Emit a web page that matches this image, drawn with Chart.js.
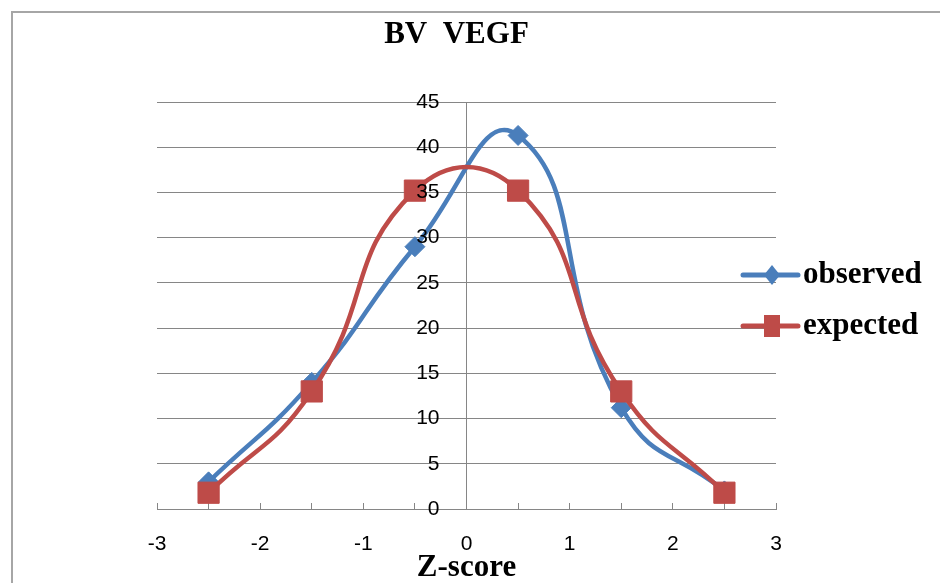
<!DOCTYPE html>
<html>
<head>
<meta charset="utf-8">
<script src="https://cdn.jsdelivr.net/npm/chart.js@4/dist/chart.umd.min.js"></script>
<style>
  html, body { margin: 0; padding: 0; background: #fff; }
  #wrap { position: relative; width: 940px; height: 583px; }
</style>
</head>
<body>
<div id="wrap"><canvas id="chart"></canvas></div>
<script>
// z-score bins and counts
const zScores = [-2.5, -1.5, -0.5, 0.5, 1.5, 2.5];
const observed = [3, 14, 29, 41.3, 11.2, 2];
const expected = [1.8, 13, 35.2, 35.2, 13, 1.8];
const seriesNames = ['observed', 'expected'];
const chartTitle = 'BV  VEGF';
const xTitle = 'Z-score';

const blue = '#4a7ebb';
const red = '#be4b48';
const grey = '#868686';

const toPoints = ys => zScores.map((x, i) => ({ x: x, y: ys[i] }));

// border, title and legend drawn by hand, Excel-style
const decor = {
    id: 'decor',
    beforeDraw(chart) {
        const ctx = chart.ctx;
        ctx.save();
        ctx.strokeStyle = '#a6a6a6';
        ctx.lineWidth = 2;
        ctx.beginPath();
        ctx.moveTo(12, chart.height);
        ctx.lineTo(12, 12);
        ctx.lineTo(chart.width, 12);
        ctx.stroke();
        ctx.restore();

        // y labels sit left of the centre axis, with a gap
        const items = chart.scales.y.getLabelItems(chart.chartArea);
        if (!items._shifted) {
            items.forEach(it => { it.options.translation[0] -= 27; });
            items._shifted = true;
        }
    },
    afterDraw(chart) {
        const ctx = chart.ctx, a = chart.chartArea;
        ctx.save();
        ctx.fillStyle = '#000';
        ctx.textBaseline = 'middle';
        ctx.textAlign = 'center';
        ctx.font = 'bold 31px "Liberation Serif"';
        ctx.fillText(chartTitle, (a.left + a.right) / 2 - 10, 35);

        ctx.textAlign = 'left';
        chart.data.datasets.forEach((ds, i) => {
            const y = 275 + i * 51;
            const x0 = a.right - 33;
            ctx.strokeStyle = ds.borderColor;
            ctx.lineWidth = 5;
            ctx.lineCap = 'round';
            ctx.beginPath();
            ctx.moveTo(x0, y);
            ctx.lineTo(x0 + 55, y);
            ctx.stroke();
            ctx.fillStyle = ds.backgroundColor;
            ctx.beginPath();
            const cx = x0 + 29;
            if (ds.pointStyle === 'rectRot') {
                ctx.moveTo(cx - 8, y); ctx.lineTo(cx, y - 10);
                ctx.lineTo(cx + 8, y); ctx.lineTo(cx, y + 10);
            } else {
                ctx.rect(cx - 8, y - 11, 16, 22);
            }
            ctx.closePath();
            ctx.fill();
            ctx.fillStyle = '#000';
            ctx.font = 'bold 31px "Liberation Serif"';
            ctx.fillText(ds.label, x0 + 60, y);
        });
        ctx.restore();
    }
};

Chart.defaults.font.family = '"Liberation Sans", Arial, sans-serif';
Chart.defaults.color = '#000';

new Chart(document.getElementById('chart'), {
    type: 'scatter',
    data: {
        datasets: [
            {
                label: seriesNames[0], data: toPoints(observed), order: 1,
                showLine: true, tension: 0.5,
                borderColor: blue, backgroundColor: blue, borderWidth: 4.5,
                pointStyle: 'rectRot', pointRadius: 10, pointBorderWidth: 1, pointBorderColor: blue
            },
            {
                label: seriesNames[1], data: toPoints(expected), order: 0,
                showLine: true, tension: 0.5,
                borderColor: red, backgroundColor: red, borderWidth: 4.5,
                pointStyle: 'rect', pointRadius: 15, pointBorderWidth: 1, pointBorderColor: red
            }
        ]
    },
    options: {
        responsive: true,
        maintainAspectRatio: false,
        animation: false,
        layout: { padding: { left: 157, right: 164, top: 102, bottom: 0 } },
        plugins: {
            legend: { display: false },
            title: { display: false },
            tooltip: { enabled: false }
        },
        scales: {
            x: {
                type: 'linear', position: 'bottom',
                min: -3, max: 3,
                grid: { drawOnChartArea: false, drawTicks: true, tickLength: -6, color: grey },
                border: { display: true, color: grey, width: 1 },
                ticks: {
                    stepSize: 0.5, autoSkip: false, maxRotation: 0, padding: 28.4,
                    font: { size: 21 },
                    callback: v => Number.isInteger(v) ? String(v) : ''
                },
                title: {
                    display: true, text: xTitle,
                    font: { family: '"Liberation Serif"', size: 31, weight: 'bold', lineHeight: 1 },
                    padding: { top: -33, bottom: 0 }
                }
            },
            y: {
                position: { x: 0 },
                min: 0, max: 45,
                grid: { color: grey, drawTicks: false },
                border: { display: true, color: grey, width: 1 },
                ticks: { stepSize: 5, font: { size: 21 }, z: 1 }
            }
        }
    },
    plugins: [decor]
});
</script>
</body>
</html>
